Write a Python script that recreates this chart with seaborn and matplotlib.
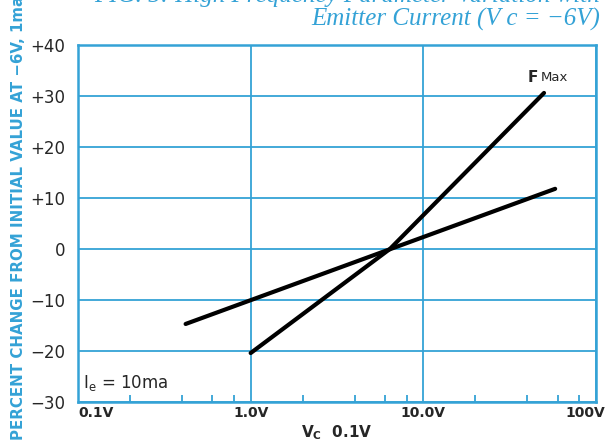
import pandas as pd
import seaborn as sns
from matplotlib import pyplot as plt
import matplotlib.ticker as ticker
import matplotlib.transforms as mtransforms

# values
x_base = [0.42, 58.0]
y_base = [-14.7, 11.8]
x_fmax = [1.0, 6.4, 50.0]
y_fmax = [-20.4, 0.0, 30.6]
x_ticks = [0.1, 1.0, 10.0, 100.0]
x_ticklabels = ['0.1V', '1.0V', '10.0V', '100V']
y_ticks = [-30, -20, -10, 0, 10, 20, 30, 40]
y_ticklabels = ['\u221230', '\u221220', '\u221210', '0', '+10', '+20', '+30', '+40']

blue = '#34a2d6'

df = pd.concat([
    pd.DataFrame({'v': x_base, 'pct': y_base, 'curve': 'base'}),
    pd.DataFrame({'v': x_fmax, 'pct': y_fmax, 'curve': 'fmax'}),
])

sns.set_style('white')
fig = plt.figure(figsize=(6.07, 4.45), dpi=100)
ax = fig.add_axes([78 / 607, 1 - 402 / 445, 518 / 607, 357 / 445])

sns.lineplot(data=df, x='v', y='pct', units='curve', estimator=None, sort=False,
             color='black', linewidth=3, ax=ax, legend=False)

ax.set_xscale('log')
ax.set_xlim(0.1, 100)
ax.set_ylim(-30, 40)
ax.set_xticks(x_ticks)
ax.set_xticklabels(x_ticklabels, fontsize=10, fontweight='bold')
ax.xaxis.set_minor_locator(ticker.LogLocator(base=10, subs=[2, 4, 6, 8]))
ax.xaxis.set_minor_formatter(ticker.NullFormatter())
ax.set_yticks(y_ticks)
ax.set_yticklabels(y_ticklabels, fontsize=12)
ax.tick_params(axis='x', which='major', length=0, pad=3)
ax.tick_params(axis='x', which='minor', direction='in', length=5, color=blue, width=1.3, bottom=True)
ax.tick_params(axis='y', length=0, pad=9)

# keep the end labels inside the figure like the original
labels = ax.get_xticklabels()
labels[0].set_ha('left')
labels[-1].set_transform(labels[-1].get_transform() +
                         mtransforms.ScaledTranslation(-0.11, 0, fig.dpi_scale_trans))

ax.grid(True, which='major', color=blue, linewidth=1.3)
for s in ax.spines.values():
    s.set_color(blue)
    s.set_linewidth(1.8)

ax.set_xlabel('V$_{\\mathregular{C}}$  0.1V', fontsize=11, fontweight='bold', labelpad=2)
ax.set_ylabel('')

ax.text(40, 33.6, 'F', fontsize=11, fontweight='bold', va='center')
ax.text(48, 33.6, 'Max', fontsize=9.5, va='center')
ax.text(0.107, -26.3, 'I$_{\\mathregular{e}}$ = 10ma', fontsize=12, va='center')

fig.text(0.03, 0.011, 'PERCENT CHANGE FROM INITIAL VALUE AT \u22126V, 1ma', rotation=90,
         ha='center', va='bottom', color=blue, fontsize=10.8, fontweight='bold')

# title is partly cut off at the top in the original
fig.text(0.988, 1.008, 'FIG. 5: High Frequency Parameter Variation with', ha='right', va='center',
         color=blue, fontsize=18, style='italic', family='Liberation Serif')
fig.text(0.988, 0.957, 'Emitter Current (V c = \u22126V)', ha='right', va='center',
         color=blue, fontsize=18, style='italic', family='Liberation Serif')

fig.savefig('out.png', dpi=100)
